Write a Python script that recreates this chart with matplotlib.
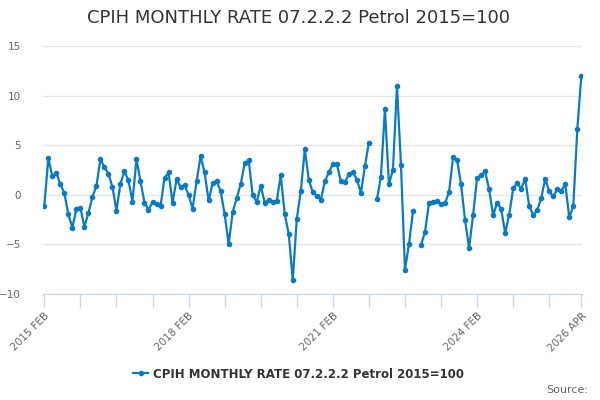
import numpy as np
import pandas as pd
import matplotlib.pyplot as plt
from matplotlib.lines import Line2D

title = "CPIH MONTHLY RATE 07.2.2.2 Petrol 2015=100"
series_name = "CPIH MONTHLY RATE 07.2.2.2 Petrol 2015=100"

# monthly rate, Feb 2015 .. Apr 2026 (nan = no value published)
rate = [
    -1.15, 3.68, 1.86, 2.23, 1.05, 0.17, -1.96, -3.31, -1.45, -1.32,
    -3.21, -1.86, -0.24, 0.88, 3.58, 2.80, 2.13, 0.78, -1.59, 1.11,
    2.36, 1.45, -0.68, 3.58, 1.35, -0.78, -1.52, -0.74, -0.95, -1.15,
    1.69, 2.26, -0.78, 1.55, 0.78, 0.98, -0.03, -1.39, 1.35, 3.89,
    2.26, -0.57, 1.18, 1.39, 0.37, -1.93, -5.00, -1.76, -0.34, 1.05,
    3.18, 3.48, -0.03, -0.71, 0.91, -0.78, -0.54, -0.74, -0.64, 1.96,
    -1.96, -3.95, -8.60, -2.43, 0.34, 4.59, 1.52, 0.24, -0.10, -0.51,
    1.35, 2.26, 3.07, 3.07, 1.39, 1.28, 2.06, 2.26, 1.52, 0.20,
    2.87, 5.27, np.nan, -0.47, 1.79, 8.68, 1.05, 2.53, 11.00, 3.04,
    -7.57, -4.97, -1.66, np.nan, -5.07, -3.75, -0.84, -0.71, -0.64, -0.95,
    -0.84, 0.27, 3.78, 3.51, 1.05, -2.57, -5.37, -2.03, 1.69, 1.96,
    2.36, 0.54, -2.06, -0.81, -1.42, -3.85, -2.03, 0.64, 1.18, 0.61,
    1.62, -1.15, -2.03, -1.55, -0.34, 1.62, 0.34, -0.17, 0.57, 0.34,
    1.08, -2.26, -1.15, 6.59, 11.96,
]
months = [d.strftime("%Y %b").upper() for d in pd.date_range("2015-02-01", periods=len(rate), freq="MS")]
tick_labels = ["2015 FEB", "2018 FEB", "2021 FEB", "2024 FEB", "2026 APR"]
y_ticks = [-10, -5, 0, 5, 10, 15]

blue = "#0b7bc1"

fig = plt.figure(figsize=(6, 4), dpi=100)
ax = fig.add_axes([43.3 / 600, 1 - 294 / 400, 539 / 600, 248 / 400])

x = np.arange(len(rate))
ax.plot(x, rate, color=blue, lw=1.6, marker="o", ms=3.0, mec=blue, mfc=blue)

ax.set_xlim(-0.25, len(rate) - 0.75)
ax.set_ylim(-10, 15)
ax.set_yticks(y_ticks)
ax.grid(axis="y", color="#e6e6e6", lw=1)
ax.set_axisbelow(True)

tick_pos = list(range(0, len(rate), 9))
if tick_pos[-1] != len(rate) - 1:
    tick_pos.append(len(rate) - 1)
ax.set_xticks(tick_pos)
ax.set_xticklabels([months[p] if months[p] in tick_labels else "" for p in tick_pos],
                   rotation=45, ha="right", rotation_mode="anchor")

for s in ["top", "right", "left"]:
    ax.spines[s].set_visible(False)
ax.spines["bottom"].set_color("#ccd6eb")
ax.tick_params(axis="x", colors="#ccd6eb", length=9, width=1, labelcolor="#666666", labelsize=7.5, pad=3)
ax.tick_params(axis="y", length=0, labelcolor="#666666", labelsize=7.5, pad=16)

fig.text(0.497, 1 - 18 / 400, title, ha="center", va="center", fontsize=13, color="#333333")

handle = Line2D([], [], color=blue, lw=1.6, marker="o", ms=3.0)
fig.legend([handle], [series_name], loc="center", bbox_to_anchor=(298.5 / 600, 1 - 374 / 400),
           frameon=False, handlelength=1.3, handletextpad=0.4, numpoints=1,
           prop={"weight": "bold", "size": 8.5}, labelcolor="#333333")

fig.text(588 / 600, 1 - 390 / 400, "Source:", ha="right", va="center", fontsize=8, color="#666666")

fig.savefig("out.png", dpi=100)
